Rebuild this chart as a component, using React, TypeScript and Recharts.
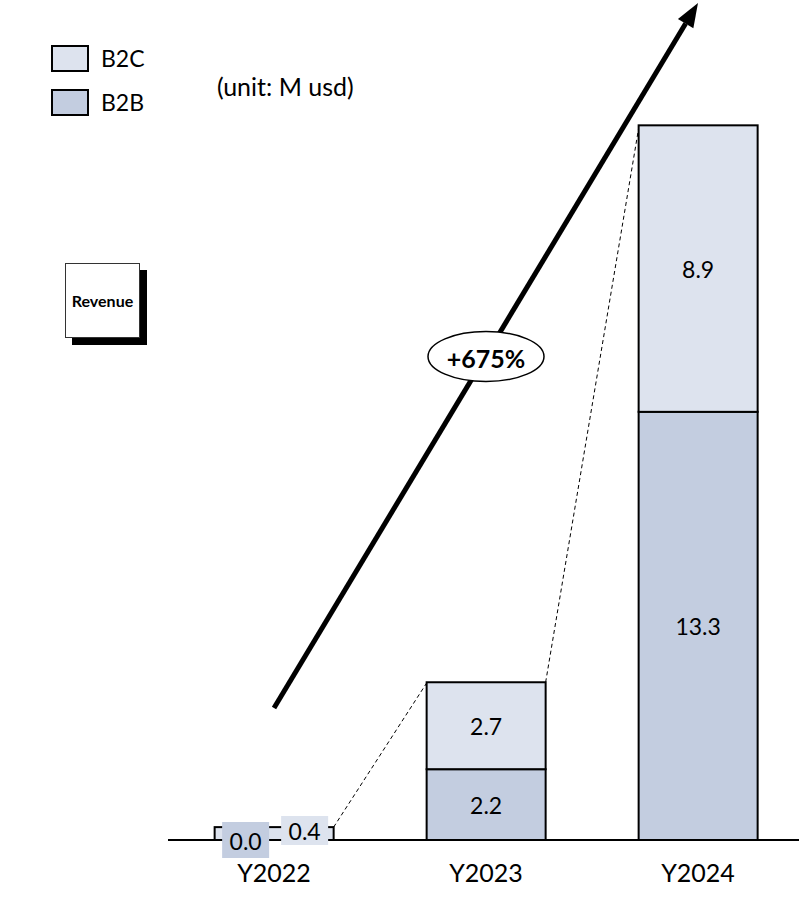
import { BarChart, Bar, XAxis, YAxis, ReferenceLine, LabelList } from 'recharts';

const YEARS = ['Y2022', 'Y2023', 'Y2024'];
const B2B = [0.0, 2.2, 13.3];
const B2C = [0.4, 2.7, 8.9];
const GROWTH_LABEL = '+675%';
const UNIT_LABEL = '(unit: M usd)';
const TITLE = 'Revenue';

const SERIES = [
  { key: 'b2b', name: 'B2B', color: '#c3cde0' },
  { key: 'b2c', name: 'B2C', color: '#dde3ee' },
];

// fraction of each category band left empty on either side of a bar
const GAP = 0.22;
// segments shorter than this get their values on chips instead of inside
const MIN_INSIDE = 20;
// growth arrow runs from the first category to the last, in data units
const ARROW_FROM = { x: 'Y2022', y: 4.1 };
const ARROW_TO = { x: 'Y2024', y: 26 };

const FONT = 'Lato, "Open Sans", sans-serif';

const data = YEARS.map((year, i) => ({
  year,
  b2b: B2B[i],
  b2c: B2C[i],
  total: +(B2B[i] + B2C[i]).toFixed(1),
}));

const fmt = (v: number) => Number(v).toFixed(1);

const insideText = (x: number, y: number, width: number, height: number, value: number) => (
  <text x={x + width / 2} y={y + height / 2} textAnchor="middle" dominantBaseline="central"
    fontSize={23} fontFamily={FONT} fill="#000">
    {fmt(value)}
  </text>
);

const bottomLabel = (props: any) => {
  const { x, y, width, height, value } = props;
  if (height < MIN_INSIDE) return null;
  return insideText(x, y, width, height, value);
};

// the top label also carries the bottom value when the whole stack is tiny
const topLabel = (props: any) => {
  const { x, y, width, height, value, index } = props;
  const row = data[index];
  if (height >= MIN_INSIDE) return insideText(x, y, width, height, value);
  const cx = x + width / 2;
  const base = y + height;
  return (
    <g fontFamily={FONT} fontSize={23} fill="#000">
      <rect x={cx - 52} y={base - 18} width={47} height={36} fill={SERIES[0].color} />
      <text x={cx - 28.5} y={base + 1} textAnchor="middle" dominantBaseline="central">{fmt(row.b2b)}</text>
      <rect x={cx + 7} y={base - 24} width={47} height={29} fill={SERIES[1].color} />
      <text x={cx + 30.5} y={base - 9.5} textAnchor="middle" dominantBaseline="central">{fmt(value)}</text>
    </g>
  );
};

// top segment of each stack, plus a dashed leader from its top-right corner
// to the top-left corner of the next stack
const TopSegment = (props: any) => {
  const { x, y, width, height, fill, index, payload } = props;
  const next = data[index + 1];
  let leader = null;
  if (next && height > 0) {
    const ppu = height / payload.b2c;
    const base = y + height + payload.b2b * ppu;
    const step = width / (1 - 2 * GAP);
    leader = (
      <line x1={x + width} y1={y} x2={x + step} y2={base - next.total * ppu}
        stroke="#000" strokeWidth={1} strokeDasharray="4 3" />
    );
  }
  return (
    <g>
      <rect x={x} y={y} width={width} height={height} fill={fill} stroke="#000" strokeWidth={2} />
      {leader}
    </g>
  );
};

const GrowthArrow = (props: any) => {
  const { x1, y1, x2, y2 } = props;
  const dx = x2 - x1;
  const dy = y2 - y1;
  const len = Math.hypot(dx, dy);
  const ux = dx / len;
  const uy = dy / len;
  const head = 24;
  const half = 9;
  const bx = x2 - ux * head;
  const by = y2 - uy * head;
  const px = -uy;
  const py = ux;
  const mx = (x1 + x2) / 2;
  const my = (y1 + y2) / 2;
  return (
    <g>
      <line x1={x1} y1={y1} x2={bx} y2={by} stroke="#000" strokeWidth={5} />
      <polygon points={`${x2},${y2} ${bx + px * half},${by + py * half} ${bx - px * half},${by - py * half}`} fill="#000" />
      <ellipse cx={mx} cy={my + 1} rx={58} ry={25} fill="#fff" stroke="#000" strokeWidth={1.5} />
      <text x={mx} y={my + 2} textAnchor="middle" dominantBaseline="central" fontWeight={700}
        fontSize={25} fontFamily={FONT} fill="#000">
        {GROWTH_LABEL}
      </text>
    </g>
  );
};

export default function App() {
  return (
    <div style={{ position: 'absolute', left: 0, top: 0, width: 799, height: 897, background: '#fff', fontFamily: FONT }}>
      <BarChart width={799} height={897} data={data} barCategoryGap={`${GAP * 100}%`}
        margin={{ top: 3, right: -5, bottom: 27, left: 168 }}>
        <XAxis dataKey="year" axisLine={{ stroke: '#000', strokeWidth: 2 }} tickLine={false} tickSize={0}
          tickMargin={24} tick={{ fontSize: 25, fill: '#000', fontFamily: FONT }} />
        <YAxis domain={[0, 26]} hide />
        <Bar dataKey="b2b" stackId="rev" fill={SERIES[0].color} stroke="#000" strokeWidth={2}
          isAnimationActive={false}>
          <LabelList dataKey="b2b" content={bottomLabel} />
        </Bar>
        <Bar dataKey="b2c" stackId="rev" fill={SERIES[1].color} shape={TopSegment} isAnimationActive={false}>
          <LabelList dataKey="b2c" content={topLabel} />
        </Bar>
        <ReferenceLine ifOverflow="visible" segment={[ARROW_FROM, ARROW_TO]} shape={GrowthArrow} />
      </BarChart>

      {[...SERIES].reverse().map((s, i) => (
        <div key={s.key} style={{ position: 'absolute', left: 51, top: 44 + i * 44, display: 'flex', alignItems: 'center' }}>
          <span style={{ width: 38, height: 27, background: s.color, border: '2px solid #000', boxSizing: 'border-box' }} />
          <span style={{ marginLeft: 12, fontSize: 23 }}>{s.name}</span>
        </div>
      ))}
      <div style={{ position: 'absolute', left: 217, top: 71, fontSize: 25 }}>{UNIT_LABEL}</div>
      <div style={{
        position: 'absolute', left: 65, top: 263, width: 75, height: 75, boxSizing: 'border-box',
        border: '1.5px solid #333', boxShadow: '7px 7px 0 #000', display: 'flex', alignItems: 'center',
        justifyContent: 'center', fontWeight: 700, fontSize: 16, background: '#fff',
      }}>
        {TITLE}
      </div>
    </div>
  );
}
